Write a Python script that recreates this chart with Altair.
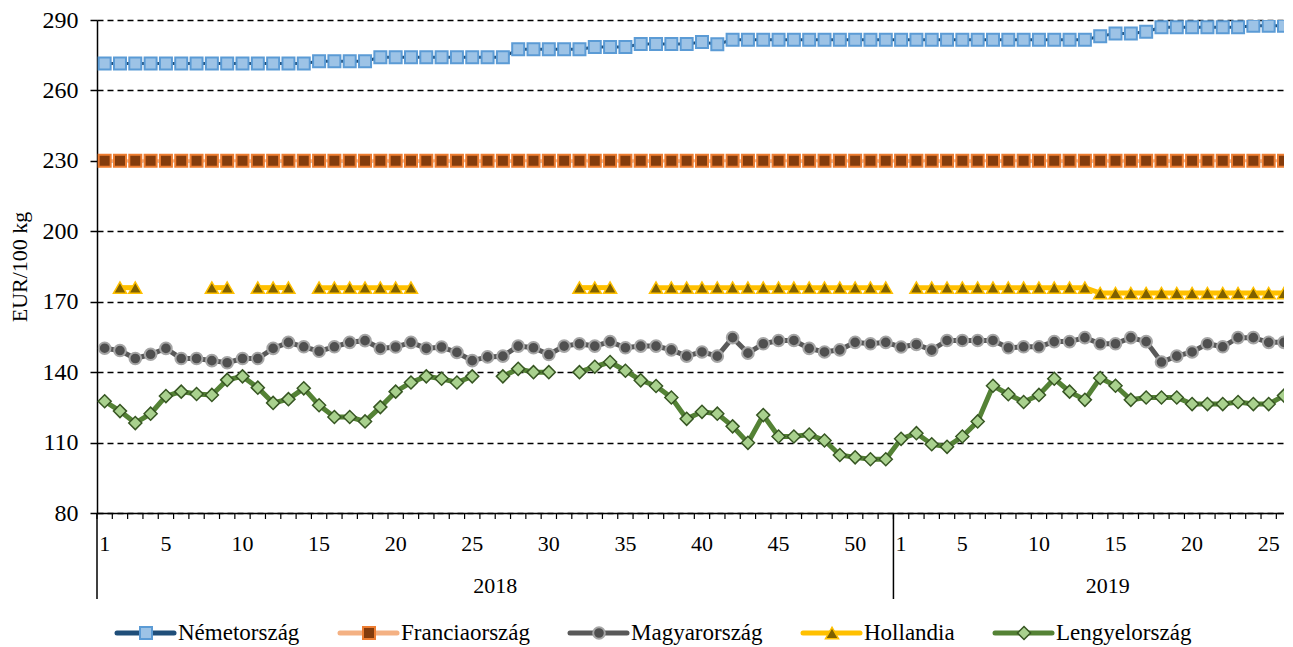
import altair as alt
import pandas as pd

FONT = "Liberation Serif"

# ---------------- data ----------------
weeks_2018 = list(range(1, 53))
weeks_2019 = list(range(1, 27))
years = ["2018", "2019"]
countries = ["Németország", "Franciaország", "Magyarország", "Hollandia", "Lengyelország"]

nemet = [271.5, 271.5, 271.5, 271.5, 271.5, 271.5, 271.5, 271.5, 271.5, 271.5,
         271.5, 271.5, 271.5, 271.5, 272.4, 272.4, 272.4, 272.4, 274.1, 274.1,
         274.1, 274.1, 274.1, 274.1, 274.1, 274.1, 274.1, 277.5, 277.5, 277.5,
         277.5, 277.5, 278.5, 278.5, 278.5, 279.8, 279.8, 279.8, 279.8, 280.6,
         279.7, 281.6, 281.6, 281.6, 281.6, 281.6, 281.6, 281.6, 281.6, 281.6,
         281.6, 281.6, 281.6, 281.6, 281.6, 281.6, 281.6, 281.6, 281.6, 281.6,
         281.6, 281.6, 281.6, 281.6, 281.6, 283.1, 284.3, 284.3, 285.0, 286.9,
         286.9, 286.9, 286.9, 286.9, 286.9, 287.6, 287.6, 287.6]

francia = [230.0] * 78

magyar = [150.2, 149.2, 145.8, 147.6, 150.1, 145.8, 145.8, 144.9, 144.0, 145.8,
          145.8, 150.1, 152.7, 150.8, 148.9, 150.8, 152.7, 153.4, 150.1, 150.7,
          152.7, 150.1, 150.7, 148.4, 144.9, 146.5, 146.8, 151.1, 150.4, 147.5,
          151.1, 152.1, 151.1, 153.0, 150.4, 151.1, 151.1, 149.5, 146.8, 148.6,
          146.8, 154.7, 148.1, 152.1, 153.5, 153.5, 150.1, 148.6, 149.5, 152.7,
          152.1, 152.7, 150.7, 151.8, 149.4, 153.5, 153.5, 153.5, 153.5, 150.4,
          150.8, 150.8, 153.0, 153.0, 154.7, 152.1, 152.1, 154.7, 153.0, 144.3,
          146.8, 148.6, 152.1, 150.8, 154.7, 154.7, 152.7, 152.7]

N = None
holland = [N, 176, 176, N, N, N, N, 176, 176, N,
           176, 176, 176, N, 176, 176, 176, 176, 176, 176,
           176, N, N, N, N, N, N, N, N, N,
           N, 176, 176, 176, N, N, 176, 176, 176, 176,
           176, 176, 176, 176, 176, 176, 176, 176, 176, 176,
           176, 176, N, 176, 176, 176, 176, 176, 176, 176,
           176, 176, 176, 176, 176, 173.7, 173.7, 173.7, 173.7, 173.7,
           173.7, 173.7, 173.7, 173.7, 173.7, 173.7, 173.7, 173.7]

lengyel = [127.6, 123.4, 118.3, 122.3, 129.8, 131.7, 130.7, 130.3, 136.7, 138.2,
           133.4, 126.9, 128.5, 133.1, 125.9, 120.9, 120.9, 119.0, 125.1, 131.7,
           135.6, 138.2, 137.2, 135.6, 138.2, N, 138.2, 141.4, 140.0, 140.0,
           N, 140.0, 142.3, 144.3, 140.6, 136.5, 134.1, 129.2, 120.1, 123.1,
           122.3, 116.9, 109.9, 121.7, 112.6, 112.6, 113.4, 110.9, 104.7, 103.7,
           102.9, 102.9, 111.6, 114.0, 109.3, 108.2, 112.6, 119.0, 134.2, 130.6,
           127.3, 130.3, 137.2, 131.7, 128.2, 137.5, 134.2, 128.2, 129.2, 129.2,
           129.2, 126.4, 126.4, 126.4, 127.3, 126.4, 126.4, 130.0]

y_ticks = [80, 110, 140, 170, 200, 230, 260, 290]
label_weeks = [1, 5, 10, 15, 20, 25, 30, 35, 40, 45, 50]

# ---------------- styles ----------------
styles = {
    "Németország":   dict(line="#1F4E79", lw=3, shape="square", fill="#9DC3E6", stroke="#5B9BD5", sw=2, size=144),
    "Franciaország": dict(line="#F4B183", lw=3, shape="square", fill="#843C0C", stroke="#ED7D31", sw=2, size=144),
    "Magyarország":  dict(line="#595959", lw=5, shape="circle", fill="#505050", stroke="#A6A6A6", sw=2, size=135),
    "Hollandia":     dict(line="#FFC000", lw=5, shape="triangle-up", fill="#7F6000", stroke="#FFC000", sw=1.5, size=170),
    "Lengyelország": dict(line="#548235", lw=5, shape="diamond", fill="#A9D18E", stroke="#375623", sw=1.5, size=170),
}
series = dict(zip(countries, [nemet, francia, magyar, holland, lengyel]))

# ---------------- build frames ----------------
idx_all = list(range(1, len(weeks_2018) + len(weeks_2019) + 1))


def series_frame(name, vals):
    rows, seg, prev_ok = [], 0, False
    for i, v in zip(idx_all, vals):
        if v is None:
            prev_ok = False
            continue
        if not prev_ok:
            seg += 1
        rows.append({"idx": i, "value": v, "seg": seg, "country": name})
        prev_ok = True
    return pd.DataFrame(rows)


W, H = 1187, 493
n2018 = len(weeks_2018)

xscale = alt.Scale(domain=[0.5, 78.0], nice=False, zero=False)
yscale = alt.Scale(domain=[80, 290], nice=False, zero=False)

X = alt.X("idx:Q", scale=xscale,
          axis=alt.Axis(domain=True, domainColor="black", domainWidth=1.5, ticks=False,
                        labels=False, grid=False, title=None))
Y = alt.Y("value:Q", scale=yscale,
          axis=alt.Axis(values=y_ticks, grid=True, gridColor="black", gridDash=[6, 4],
                        gridWidth=1.5, domainColor="black", domainWidth=1.5,
                        tickColor="black", tickSize=7, tickWidth=1.5,
                        labelFont=FONT, labelFontSize=24, labelColor="black", labelPadding=12,
                        title="EUR/100 kg", titleFont=FONT, titleFontSize=22,
                        titleFontWeight="normal", titleColor="black", titlePadding=11))

layers = []

# minor ticks at every week boundary
bounds = pd.DataFrame({"idx": [i + 0.5 for i in range(0, len(idx_all))]})
layers.append(alt.Chart(bounds).mark_rule(color="black", strokeWidth=1.2).encode(
    x=X, y=alt.value(H), y2=alt.value(H + 6)))

# year separators
seps = pd.DataFrame({"idx": [0.5, n2018 + 0.5]})
layers.append(alt.Chart(seps).mark_rule(color="black", strokeWidth=1.5).encode(
    x=X, y=alt.value(H), y2=alt.value(H + 86)))

# series
for name in countries:
    st = styles[name]
    df = series_frame(name, series[name])
    layers.append(alt.Chart(df).mark_line(color=st["line"], strokeWidth=st["lw"], clip=True).encode(
        x=X, y=Y, detail="seg:N"))
    layers.append(alt.Chart(df).mark_point(shape=st["shape"], filled=True, fill=st["fill"],
                                           stroke=st["stroke"], strokeWidth=st["sw"],
                                           size=st["size"], opacity=1, clip=True).encode(x=X, y=Y))

# week labels
lab_df = pd.DataFrame({
    "idx": label_weeks + [n2018 + w for w in label_weeks if w <= len(weeks_2019)],
    "txt": [str(w) for w in label_weeks] + [str(w) for w in label_weeks if w <= len(weeks_2019)],
})
layers.append(alt.Chart(lab_df).mark_text(font=FONT, fontSize=22, color="black",
                                          baseline="middle", align="center").encode(
    x=X, y=alt.value(H + 31), text="txt:N"))

# year labels
year_df = pd.DataFrame({"idx": [(1 + n2018) / 2, n2018 + 14.5], "txt": years})
layers.append(alt.Chart(year_df).mark_text(font=FONT, fontSize=22, color="black",
                                           baseline="middle", align="center").encode(
    x=X, y=alt.value(H + 73), text="txt:N"))

# custom legend
leg_y = H + 120
leg_x = [20, 243, 473, 706, 898]
one = pd.DataFrame({"a": [0]})
for name, lx in zip(countries, leg_x):
    st = styles[name]
    layers.append(alt.Chart(one).mark_rule(color=st["line"], strokeWidth=5, strokeCap="round").encode(
        x=alt.value(lx), x2=alt.value(lx + 57), y=alt.value(leg_y)))
    layers.append(alt.Chart(one).mark_point(shape=st["shape"], filled=True, fill=st["fill"],
                                            stroke=st["stroke"], strokeWidth=st["sw"],
                                            size=st["size"], opacity=1).encode(
        x=alt.value(lx + 29), y=alt.value(leg_y)))
    layers.append(alt.Chart(one).mark_text(font=FONT, fontSize=23, color="black", align="left",
                                           baseline="middle", text=name).encode(
        x=alt.value(lx + 61), y=alt.value(leg_y)))

chart = alt.layer(*layers).properties(
    width=W, height=H,
    padding={"left": 0, "top": 0, "right": 0, "bottom": 0},
).configure_view(stroke=None)

chart.save("out.html", embed_options={"renderer": "svg", "actions": False})
